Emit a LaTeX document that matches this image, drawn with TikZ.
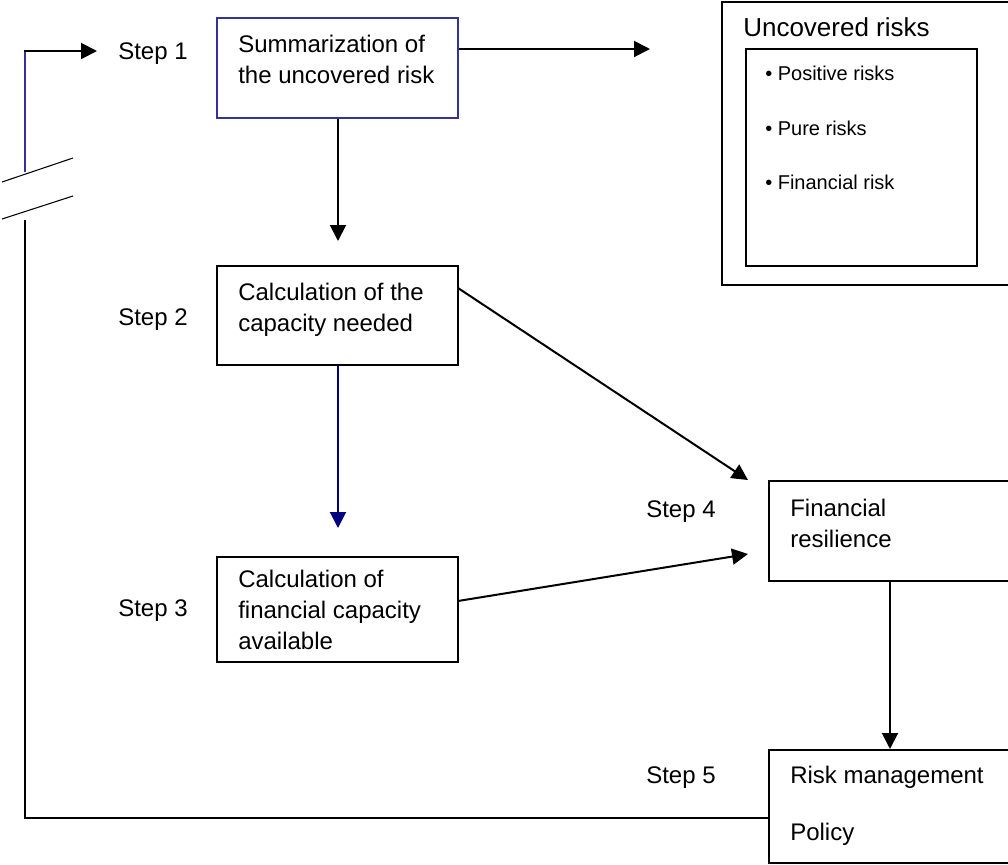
\documentclass[tikz,border=0pt]{standalone}
\usepackage{fontspec}
\setmainfont{Liberation Sans}
\usetikzlibrary{arrows.meta,fit}
\definecolor{boxblue}{RGB}{51,51,153}
\definecolor{navyblue}{RGB}{0,0,128}
\begin{document}
\begin{tikzpicture}[x=0.75pt,y=-0.75pt,
  box/.style={draw, line width=1.5pt, inner sep=0pt},
  bluebox/.style={draw=boxblue, line width=1.5pt, inner sep=0pt},
  txt/.style={anchor=base west, inner sep=0pt, font=\fontsize{18}{21}\selectfont},
  smalltxt/.style={anchor=base west, inner sep=0pt, font=\fontsize{15}{18}\selectfont},
  titletxt/.style={anchor=base west, inner sep=0pt, font=\fontsize{19.5}{23}\selectfont},
  conn/.style={line width=1.5pt},
  arr/.style={conn, -{Triangle[length=12pt,width=12pt]}},
  breakline/.style={line width=0.8pt}]
\useasboundingbox (0,0) rectangle (1008,865);
\clip (0,0) rectangle (1008,865);

% boxes
\node[bluebox, fit={(217,18) (458,118)}] (b1) {};
\node[box, fit={(217,266) (458,365)}] (b2) {};
\node[box, fit={(217,557) (458,662)}] (b3) {};
\node[box, fit={(769,481) (1015,581)}] (b4) {};
\node[box, fit={(769,750) (1015,863)}] (b5) {};
\node[box, fit={(722,2) (1015,285)}] (ur) {};
\node[box, fit={(746,49) (977,266)}] (urin) {};

% box texts
\node[txt] (t1a) at (238,52) {Summarization of};
\node[txt] (t1b) at (238,83) {the uncovered risk};
\node[txt] (t2a) at (238,300) {Calculation of the};
\node[txt] (t2b) at (238,331) {capacity needed};
\node[txt] (t3a) at (238,587) {Calculation of};
\node[txt] (t3b) at (238,618) {financial capacity};
\node[txt] (t3c) at (238,649) {available};
\node[txt] (t4a) at (790,516) {Financial};
\node[txt] (t4b) at (790,547) {resilience};
\node[txt] (t5a) at (790,783) {Risk management};
\node[txt] (t5b) at (790,840) {Policy};
\node[titletxt] (urt) at (743,36) {Uncovered risks};
\node[smalltxt] (u1) at (765,80) {• Positive risks};
\node[smalltxt] (u2) at (765,135) {• Pure risks};
\node[smalltxt] (u3) at (765,189) {• Financial risk};

% step labels
\node[txt] (s1) at (118,59) {Step 1};
\node[txt] (s2) at (118,325) {Step 2};
\node[txt] (s3) at (118,616) {Step 3};
\node[txt] (s4) at (646,517) {Step 4};
\node[txt] (s5) at (646,783) {Step 5};

% free ends
\coordinate (e1) at (650,49);
\coordinate (e2) at (338,241);
\coordinate (e3) at (338,528);
\coordinate (e4) at (748,480);
\coordinate (e5) at (748,554);
\coordinate (e6) at (890,749);
\coordinate (fb1) at (25,818);
\coordinate (fb2) at (25,220);
\coordinate (fb3) at (25,172);
\coordinate (fb4) at (25,51);
\coordinate (fb5) at (97,51);

% connectors
\draw[arr] (b1.east |- e1) -- (e1);
\draw[arr] (b1.south -| e2) -- (e2);
\draw[arr, navyblue] (b2.south -| e3) -- (e3);
\draw[arr] (458,288) -- (e4);
\draw[arr] (458,601) -- (e5);
\draw[arr] (b4.south -| e6) -- (e6);

% feedback loop
\draw[conn] (b5.west |- fb1) -- (fb1) -- (fb2);
\draw[conn, boxblue] (fb3) -- (fb4);
\draw[arr] ([xshift=-0.75pt]fb4) -- (fb5);
\draw[breakline] (2,182) -- (73,158);
\draw[breakline] (2,219) -- (73,196);
\end{tikzpicture}
\end{document}
